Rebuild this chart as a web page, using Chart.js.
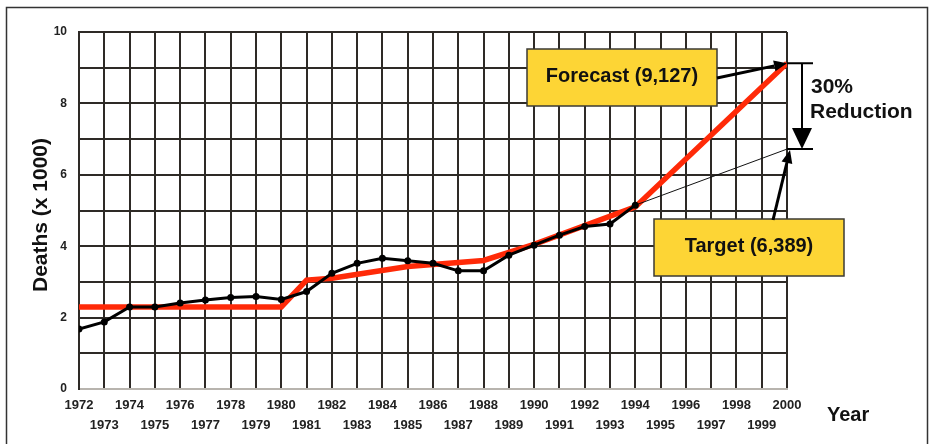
<!DOCTYPE html>
<html>
<head>
<meta charset="utf-8">
<script src="https://cdn.jsdelivr.net/npm/chart.js@4"></script>
<style>
  body { margin: 0; background: #fff; }
  #wrap { position: relative; width: 932px; height: 444px; }
</style>
</head>
<body>
<div id="wrap"><canvas id="deathsChart"></canvas></div>
<script>
// --- DATA ---
const years = [1972, 1973, 1974, 1975, 1976, 1977, 1978, 1979, 1980, 1981, 1982,
               1983, 1984, 1985, 1986, 1987, 1988, 1989, 1990, 1991, 1992, 1993, 1994];
const actualDeaths = [1.68, 1.88, 2.3, 2.3, 2.41, 2.49, 2.56, 2.59, 2.51, 2.73, 3.24,
                      3.52, 3.66, 3.59, 3.52, 3.31, 3.31, 3.75, 4.03, 4.31, 4.55, 4.62, 5.15];
// trend line (red), given at its break points
const trendYears = [1972, 1980, 1981, 1982, 1985, 1988, 1990, 1994, 2000];
const trendDeaths = [2.3, 2.3, 3.05, 3.1, 3.43, 3.6, 4.05, 5.1, 9.127];
// target line (thin black)
const targetYears = [1994, 2000];
const targetDeaths = [5.15, 6.72];

const forecastLabel = 'Forecast (9,127)';
const targetLabel = 'Target (6,389)';
const reductionLabel = ['30%', 'Reduction'];

const FONT = '"Liberation Sans", Arial, sans-serif';

function pts(xs, ys) {
    return xs.map((x, i) => ({ x: x, y: ys[i] }));
}

// --- ANNOTATIONS ---
function arrow(ctx, x1, y1, x2, y2, headLen, headHalf, width) {
    const ang = Math.atan2(y2 - y1, x2 - x1);
    const bx = x2 - headLen * Math.cos(ang), by = y2 - headLen * Math.sin(ang);
    ctx.strokeStyle = '#000';
    ctx.fillStyle = '#000';
    ctx.lineWidth = width;
    ctx.beginPath();
    ctx.moveTo(x1, y1);
    ctx.lineTo(bx, by);
    ctx.stroke();
    ctx.beginPath();
    ctx.moveTo(x2, y2);
    ctx.lineTo(bx + headHalf * Math.sin(ang), by - headHalf * Math.cos(ang));
    ctx.lineTo(bx - headHalf * Math.sin(ang), by + headHalf * Math.cos(ang));
    ctx.closePath();
    ctx.fill();
}

function labelBox(ctx, x, y, w, h, text) {
    ctx.fillStyle = '#fdd535';
    ctx.fillRect(x, y, w, h);
    ctx.strokeStyle = '#3b3a35';
    ctx.lineWidth = 1.5;
    ctx.strokeRect(x, y, w, h);
    ctx.fillStyle = '#111';
    ctx.font = 'bold 20px ' + FONT;
    ctx.textAlign = 'center';
    ctx.textBaseline = 'middle';
    ctx.fillText(text, x + w / 2, y + h / 2 - 1);
}

const annotate = {
    id: 'annotate',
    beforeDraw(chart) {
        const ctx = chart.ctx;
        ctx.save();
        ctx.strokeStyle = '#333';
        ctx.lineWidth = 1.5;
        ctx.strokeRect(6.5, 7.5, 921, 500);
        ctx.restore();
    },
    afterDraw(chart) {
        const { ctx, scales: { x, y } } = chart;
        const xe = x.getPixelForValue(2000);
        const yf = y.getPixelForValue(trendDeaths[trendDeaths.length - 1]);
        const yt = y.getPixelForValue(targetDeaths[targetDeaths.length - 1]);
        ctx.save();

        // forecast box + arrow
        labelBox(ctx, 527, 49, 190, 57, forecastLabel);
        arrow(ctx, 717, 78, xe, yf, 13, 5.5, 3);

        // target box + arrow
        labelBox(ctx, 654, 219, 190, 57, targetLabel);
        arrow(ctx, 773, 220, xe + 3, yt + 1, 13, 5.5, 3);

        // reduction bracket
        ctx.strokeStyle = '#000';
        ctx.lineWidth = 2;
        ctx.beginPath();
        ctx.moveTo(xe, yf); ctx.lineTo(xe + 26, yf);
        ctx.moveTo(xe, yt); ctx.lineTo(xe + 26, yt);
        ctx.stroke();
        arrow(ctx, xe + 15, yf, xe + 15, yt, 21, 10, 2);

        ctx.fillStyle = '#111';
        ctx.font = 'bold 21px ' + FONT;
        ctx.textAlign = 'left';
        ctx.textBaseline = 'middle';
        ctx.fillText(reductionLabel[0], 811, 87);
        ctx.fillText(reductionLabel[1], 810, 112);

        // axis titles
        ctx.font = 'bold 20px ' + FONT;
        ctx.fillText('Year', 827, 415);
        ctx.translate(41, 215);
        ctx.rotate(-Math.PI / 2);
        ctx.textAlign = 'center';
        ctx.font = 'bold 21px ' + FONT;
        ctx.fillText('Deaths (x 1000)', 0, 0);
        ctx.restore();
    }
};

// --- CHART SETUP ---
const ctx = document.getElementById('deathsChart').getContext('2d');
const chart = new Chart(ctx, {
    type: 'line',
    data: {
        datasets: [
            {
                label: 'Actual',
                data: pts(years, actualDeaths),
                borderColor: '#000',
                backgroundColor: '#000',
                borderWidth: 3,
                pointRadius: 3.5,
                pointBorderWidth: 0,
                tension: 0,
                order: 0
            },
            {
                label: 'Target',
                data: pts(targetYears, targetDeaths),
                borderColor: '#111',
                borderWidth: 1,
                pointRadius: 0,
                tension: 0,
                order: 1
            },
            {
                label: 'Trend',
                data: pts(trendYears, trendDeaths),
                borderColor: '#ff2a08',
                borderWidth: 5.5,
                pointRadius: 0,
                tension: 0,
                order: 2
            }
        ]
    },
    options: {
        responsive: true,
        maintainAspectRatio: false,
        animation: false,
        layout: { padding: { left: 0, top: 32, right: 145, bottom: 0 } },
        plugins: { legend: { display: false }, tooltip: { enabled: false } },
        scales: {
            x: {
                type: 'linear',
                min: 1972,
                max: 2000,
                afterFit: (s) => { s.height = 55; },
                border: { color: '#b8b4ae', width: 2 },
                grid: { color: '#2e2a26', lineWidth: 2, drawTicks: false },
                ticks: {
                    stepSize: 1,
                    autoSkip: false,
                    maxRotation: 0,
                    minRotation: 0,
                    padding: 6,
                    color: '#222',
                    font: { family: FONT, size: 13, weight: 'bold', lineHeight: 1.55 },
                    callback: (v) => v % 2 === 0 ? [String(v), ''] : ['', String(v)]
                }
            },
            y: {
                min: 0,
                max: 10,
                afterFit: (s) => { s.width = 79; },
                border: { color: '#2e2a26', width: 2 },
                grid: { color: '#2e2a26', lineWidth: 2, drawTicks: false },
                ticks: {
                    stepSize: 1,
                    padding: 12,
                    color: '#222',
                    font: { family: FONT, size: 12, weight: 'bold' },
                    callback: (v) => v % 2 === 0 ? v : ''
                }
            }
        }
    },
    plugins: [annotate]
});
</script>
</body>
</html>
